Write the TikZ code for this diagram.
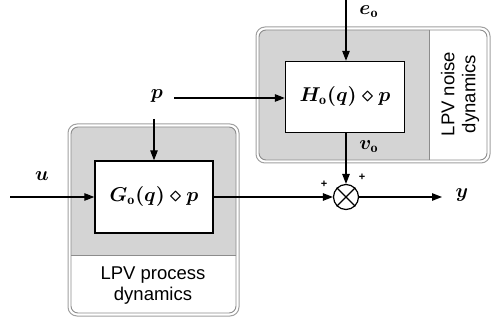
\documentclass[tikz,border=0pt]{standalone}
\usepackage{graphicx}
\usepackage{fontspec}
\setsansfont{Liberation Sans}
\usepackage{amsmath}
\usetikzlibrary{arrows.meta}
\definecolor{boxgray}{HTML}{D4D4D4}
\definecolor{rim}{HTML}{8C8C8C}
\definecolor{rimout}{HTML}{A0A0A0}
\newcommand{\mth}[1]{\scalebox{2.0}{\boldmath$#1$}}
\begin{document}
\begin{tikzpicture}[x=1pt,y=-1pt,
  arr/.style={-{Triangle[length=10pt,width=7.5pt]}, line width=1.2pt},
  blk/.style={draw, line width=1.4pt, fill=white, inner sep=0pt},
  lbl/.style={inner sep=1pt},
  sflbl/.style={inner sep=0pt, font=\fontsize{18.5}{21}\selectfont\sffamily, align=center},
  plus/.style={inner sep=0pt, font=\fontsize{11}{12}\selectfont\sffamily\bfseries},
  outerbox/.style={draw=rimout, line width=1pt, rounded corners=9pt},
  innerbox/.style={draw=rim, line width=0.9pt, rounded corners=7pt}]
\useasboundingbox (0,0) rectangle (491,321);
% left container
\draw[outerbox, fill=white] (68,124) rectangle (239,316);
\begin{scope}
  \clip (0,0) rectangle (491,255);
  \fill[boxgray, rounded corners=7pt] (71,127) rectangle (236,313);
\end{scope}
\draw[innerbox] (71,127) rectangle (236,313);
\draw[rim, line width=0.9pt] (71,255) -- (236,255);
% right container
\draw[outerbox, fill=white] (256,27) rectangle (490,163);
\begin{scope}
  \clip (0,0) rectangle (429,321);
  \fill[boxgray, rounded corners=7pt] (259,30) rectangle (487,160);
\end{scope}
\draw[innerbox] (259,30) rectangle (487,160);
\draw[rim, line width=0.9pt] (429,30) -- (429,160);
% blocks
\node[blk, minimum width=118pt, minimum height=72pt] (G) at (154,197) {\mth{G_{\mathrm{o}}(q)\diamond p}};
\node[blk, minimum width=119pt, minimum height=71pt] (H) at (345,97) {\mth{H_{\mathrm{o}}(q)\diamond p}};
\node[draw, circle, line width=1.2pt, minimum size=25pt, inner sep=0pt] (S) at (346,197) {};
\draw[line width=1.1pt] (S.north west) -- (S.south east) (S.north east) -- (S.south west);
% labels
\node[lbl] (p) at (157,96) {\mth{p}};
\node[lbl] (u) at (42,176) {\mth{u}};
\node[lbl] (y) at (462,195) {\mth{y}};
\node[lbl] (e) at (369,12) {\mth{e_{\mathrm{o}}}};
\node[lbl] (v) at (369,147) {\mth{v_{\mathrm{o}}}};
\node[plus] (pl) at (324,184) {+};
\node[plus] (pt) at (362,177) {+};
\node[sflbl] (proc) at (153,286) {LPV process\\dynamics};
\node[sflbl, rotate=90] (noise) at (460,94) {LPV noise\\dynamics};
% coordinates
\coordinate (uin) at (10,197);
\coordinate (yout) at (442,197);
\coordinate (etop) at (346,0);
\coordinate (pdown) at (154,119);
\coordinate (pright) at (174,98);
% connectors
\draw[arr] (uin) -- (G.west);
\draw[arr] (pdown) -- (pdown |- G.north);
\draw[arr] (pright) -- (pright -| H.west);
\draw[arr] (etop) -- (etop |- H.north);
\draw[arr] (S |- H.south) -- (S.north);
\draw[arr] (G.east) -- (S.west);
\draw[arr] (S.east) -- (yout);
\end{tikzpicture}
\end{document}
